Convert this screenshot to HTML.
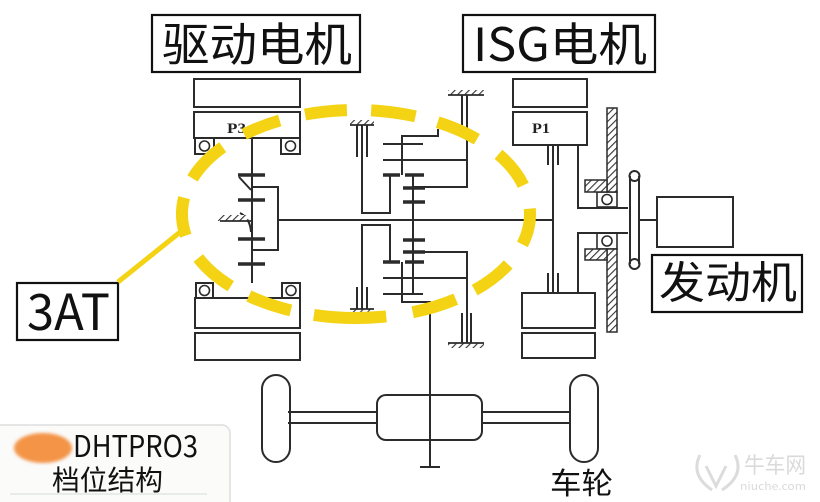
<!DOCTYPE html>
<html><head><meta charset="utf-8"><style>
html,body{margin:0;padding:0;background:#fff;}
body{width:820px;height:502px;overflow:hidden;position:relative;}
svg{position:absolute;left:0;top:0;}
</style></head><body>
<svg width="820" height="502" viewBox="0 0 820 502" xmlns="http://www.w3.org/2000/svg">
<defs>
<pattern id="h" width="5" height="5" patternUnits="userSpaceOnUse" patternTransform="rotate(45)">
<rect width="5" height="5" fill="#fff"/><line x1="0" y1="0" x2="0" y2="5" stroke="#333" stroke-width="2.2"/>
</pattern>
<filter id="bl"><feGaussianBlur stdDeviation="1.5"/></filter>
</defs>
<rect width="820" height="502" fill="#fff"/>

<!-- Title boxes -->
<g fill="none" stroke="#111" stroke-width="2.2">
<rect x="152" y="15" width="208" height="57"/>
<rect x="463" y="15" width="192" height="57"/>
<rect x="17" y="283" width="101" height="57"/>
<rect x="652" y="255" width="150" height="57"/>
</g>
<g font-family="'Noto Sans CJK SC','Liberation Sans',sans-serif" fill="#111">
<text x="162" y="61" font-size="46" textLength="190" lengthAdjust="spacingAndGlyphs">驱动电机</text>
<text x="473" y="61" font-size="46" textLength="174" lengthAdjust="spacingAndGlyphs">ISG电机</text>
<text x="27" y="330" font-size="50" textLength="83" lengthAdjust="spacingAndGlyphs">3AT</text>
<text x="659" y="298" font-size="44" textLength="138" lengthAdjust="spacingAndGlyphs">发动机</text>
<text x="550" y="494" font-size="30" textLength="63" lengthAdjust="spacingAndGlyphs">车轮</text>
</g>

<!-- Mechanism lines -->
<g fill="none" stroke="#2b2b2b" stroke-width="2">
<!-- Left motor P3 -->
<rect x="194" y="79" width="106" height="28"/>
<rect x="194" y="112" width="106" height="26"/>
<rect x="195" y="138" width="19" height="16"/>
<rect x="281" y="138" width="19" height="16"/>
<rect x="196" y="283" width="17" height="15"/>
<rect x="282" y="283" width="18" height="15"/>
<rect x="195" y="298" width="105" height="30"/>
<rect x="195" y="333" width="105" height="27"/>
<!-- left shaft -->
<line x1="252" y1="138" x2="252" y2="283"/>
<path d="M252 187 H278 V250 H252"/>
<line x1="278" y1="220" x2="553" y2="220"/>
<path d="M239 177 L251 190"/>
<path d="M240 213 Q250 218 251 232"/>
<!-- right ISG -->
<rect x="513" y="79" width="74" height="28"/>
<rect x="513" y="112" width="74" height="33"/>
<rect x="522" y="293" width="73" height="35"/>
<rect x="522" y="333" width="73" height="25"/>
<line x1="553" y1="145" x2="553" y2="293"/>
<line x1="548" y1="145" x2="548" y2="165"/>
<line x1="558" y1="145" x2="558" y2="165"/>
<line x1="548" y1="273" x2="548" y2="293"/>
<line x1="558" y1="273" x2="558" y2="293"/>
<path d="M578 145 V208 H628"/>
<path d="M578 293 V233 H628"/>
<line x1="630" y1="176" x2="630" y2="264"/>
<line x1="639" y1="176" x2="639" y2="264"/>
<circle cx="634.5" cy="176" r="5"/>
<circle cx="634.5" cy="264" r="5"/>
<line x1="639" y1="220" x2="657" y2="220"/>
<rect x="657" y="197" width="76" height="50"/>
<!-- central gear set -->
<path d="M362 123 V213 H390 V175"/>
<path d="M362 310 V225 H390 V262"/>
<line x1="357" y1="123" x2="357" y2="157"/>
<line x1="367" y1="123" x2="367" y2="157"/>
<line x1="357" y1="287" x2="357" y2="310"/>
<line x1="367" y1="287" x2="367" y2="310"/>
<path d="M438 129 V136 H402 V175"/>
<line x1="383" y1="144" x2="423" y2="144"/>
<line x1="383" y1="160" x2="467" y2="160"/>
<line x1="413" y1="175" x2="413" y2="293"/>
<path d="M413 187 H467 V93"/>
<line x1="462" y1="93" x2="462" y2="125"/>
<path d="M413 252 H467 V343"/>
<line x1="462" y1="313" x2="462" y2="343"/>
<line x1="471" y1="313" x2="471" y2="343"/>
<line x1="383" y1="278" x2="467" y2="278"/>
<line x1="383" y1="294" x2="423" y2="294"/>
<path d="M402 262 V302 H430 V467"/>
<line x1="420" y1="467" x2="440" y2="467"/>
<!-- differential / wheels -->
<rect x="377" y="395" width="105" height="45" rx="9"/>
<line x1="288" y1="412" x2="377" y2="412"/>
<line x1="288" y1="423" x2="377" y2="423"/>
<line x1="482" y1="412" x2="570" y2="412"/>
<line x1="482" y1="423" x2="570" y2="423"/>
<rect x="262" y="375" width="28" height="87" rx="14"/>
<rect x="570" y="375" width="28" height="87" rx="14"/>
</g>
<!-- thicker gear bars -->
<g stroke="#2b2b2b" stroke-width="3.5">
<line x1="238" y1="175" x2="265" y2="175"/>
<line x1="238" y1="200" x2="265" y2="200"/>
<line x1="238" y1="239" x2="265" y2="239"/>
<line x1="238" y1="264" x2="265" y2="264"/>
<line x1="383" y1="175" x2="400" y2="175"/>
<line x1="405" y1="175" x2="424" y2="175"/>
<line x1="403" y1="188" x2="425" y2="188"/>
<line x1="403" y1="202" x2="425" y2="202"/>
<line x1="403" y1="240" x2="425" y2="240"/>
<line x1="403" y1="252" x2="425" y2="252"/>
<line x1="383" y1="262" x2="400" y2="262"/>
<line x1="405" y1="262" x2="424" y2="262"/>
</g>
<!-- bearing circles -->
<g fill="none" stroke="#2b2b2b" stroke-width="1.6">
<circle cx="204.5" cy="146" r="5"/><circle cx="290.5" cy="146" r="5"/>
<circle cx="204.5" cy="290.5" r="5"/><circle cx="291" cy="290.5" r="5"/>
<rect x="597" y="192" width="20" height="15"/><circle cx="607" cy="199.5" r="5"/>
<rect x="597" y="233" width="20" height="16"/><circle cx="607" cy="241" r="5"/>
</g>
<!-- hatched -->
<g stroke="#2b2b2b" stroke-width="1.5" fill="url(#h)">
<rect x="607" y="108" width="10" height="84"/>
<rect x="607" y="249" width="10" height="83"/>
<rect x="585" y="180" width="22" height="12"/>
<rect x="585" y="249" width="22" height="11"/>
<rect x="448" y="90" width="36" height="5" stroke="none"/>
<rect x="350" y="120" width="24" height="5" stroke="none"/>
<rect x="350" y="309" width="24" height="5" stroke="none"/>
<rect x="448" y="343" width="36" height="5" stroke="none"/>
<rect x="218" y="215" width="30" height="6" stroke="none"/>
</g>
<g stroke="#2b2b2b" stroke-width="1.8">
<line x1="448" y1="95" x2="484" y2="95"/>
<line x1="350" y1="125" x2="374" y2="125"/>
<line x1="350" y1="309" x2="374" y2="309"/>
<line x1="448" y1="343" x2="484" y2="343"/>
<line x1="220" y1="221" x2="252" y2="221"/>
</g>
<!-- P labels -->
<g font-family="'Liberation Serif',serif" font-weight="bold" font-size="15" fill="#222">
<text x="227" y="133" textLength="19" lengthAdjust="spacingAndGlyphs">P3</text>
<text x="532" y="133" textLength="18" lengthAdjust="spacingAndGlyphs">P1</text>
</g>

<!-- Yellow dashed ellipse (explicit dashes) + pointer -->
<g fill="none" stroke="#f3d313" stroke-width="12">
<path d="M244.2 134.3 A174 104 0 0 1 279.7 120.5"/>
<path d="M305.1 114.5 A174 104 0 0 1 346.9 110.1"/>
<path d="M371.2 110.4 A174 104 0 0 1 415.5 116.3"/>
<path d="M437.7 122.2 A174 104 0 0 1 476.9 139.2"/>
<path d="M498.5 154.3 A174 104 0 0 1 523.3 185.3"/>
<path d="M529.8 208.6 A174 104 0 0 1 522.4 244.4"/>
<path d="M508.2 264.4 A174 104 0 0 1 474.7 290.1"/>
<path d="M455.8 299.2 A174 104 0 0 1 412.7 312.3"/>
<path d="M386.2 316.4 A174 104 0 0 1 313.9 314.9"/>
<path d="M290.8 310.4 A174 104 0 0 1 248.9 296.0"/>
<path d="M230.8 286.2 A174 104 0 0 1 198.3 258.0"/>
<path d="M185.8 235.6 A174 104 0 0 1 184.1 197.7"/>
<path d="M192.5 178.4 A174 104 0 0 1 222.7 147.2"/>
</g>
<line x1="118" y1="282" x2="184" y2="229" stroke="#f3d313" stroke-width="5"/>

<!-- Bottom-left label -->
<rect x="-8" y="425" width="238" height="90" rx="8" fill="#fbfbfa" stroke="#dedede" stroke-width="1.5"/>
<line x1="10" y1="494" x2="207" y2="494" stroke="#d5dcd8" stroke-width="1"/>
<ellipse cx="43" cy="448" rx="29" ry="15" fill="#f39446" filter="url(#bl)"/>
<g font-family="'Noto Sans CJK SC','Liberation Sans',sans-serif" fill="#111">
<text x="73" y="457" font-size="30" textLength="125" lengthAdjust="spacingAndGlyphs">DHTPRO3</text>
<text x="52" y="490" font-size="28" textLength="111" lengthAdjust="spacingAndGlyphs">档位结构</text>
</g>

<!-- Watermark -->
<g fill="none" stroke="#dcdcdc" stroke-width="3">
<path d="M700 455 Q690 475 712 490 M735 455 Q745 475 722 490"/>
<path d="M706 466 L716 486 L726 466"/>
</g>
<g font-family="'Noto Sans CJK SC','Liberation Sans',sans-serif" fill="#dadada">
<text x="744" y="473" font-size="22" textLength="62" lengthAdjust="spacingAndGlyphs">牛车网</text>
<text x="740" y="490" font-size="11" textLength="66" lengthAdjust="spacingAndGlyphs">niuche.com</text>
</g>
</svg>
</body></html>
